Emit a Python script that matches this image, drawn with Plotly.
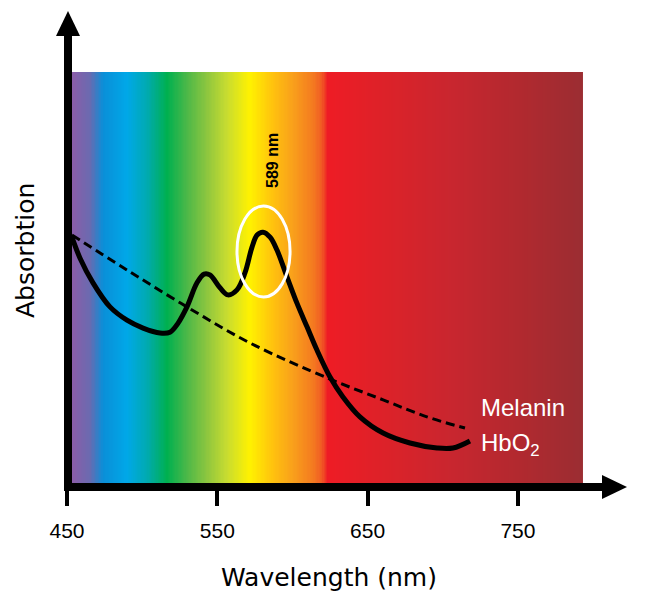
import numpy as np
import plotly.graph_objects as go

# ---- data ----
hbo2_nm = [453.3, 458.6, 467.3, 478.6, 489.9, 500.6, 511.9, 518.5, 523.9, 529.8,
           536.5, 541.2, 545.1, 551.8, 557.1, 563.1, 568.4, 573.1, 576.5, 580.4,
           585.1, 589.7, 596.4, 603.0, 609.7, 616.3, 625.0, 633.6, 644.9, 660.3,
           678.2, 696.2, 706.8, 718.1]
hbo2_abs = [60.2, 55.2, 49.2, 43.4, 40.2, 38.3, 37.1, 37.3, 39.5, 43.4,
            49.2, 51.3, 51.1, 48.0, 46.3, 47.5, 51.6, 57.8, 60.7, 61.4,
            60.2, 57.1, 50.6, 44.3, 38.6, 33.0, 26.5, 21.7, 16.9, 13.0,
            10.6, 9.4, 9.4, 11.1]

melanin_nm = [453.3, 489.9, 529.8, 571.8, 625.0, 660.3, 689.5, 714.8]
melanin_abs = [60.7, 52.3, 43.4, 34.7, 26.0, 21.0, 16.9, 14.2]

tick_vals = [450, 550, 650, 750]
tick_text = ["450", "550", "650", "750"]

spectrum_range_nm = [453.3, 793.3]
spectrum_range_abs = [0.96, 100]
spectrum_stops = [
    [0.000, "#8b5ca8"], [0.035, "#6a6ab0"], [0.061, "#0a8fd8"], [0.108, "#00a8e8"],
    [0.147, "#00aab0"], [0.186, "#00b050"], [0.225, "#4cb848"], [0.264, "#8dc63f"],
    [0.303, "#c8dc30"], [0.348, "#fff200"], [0.393, "#ffc20e"], [0.432, "#f9a01b"],
    [0.472, "#f47a20"], [0.489, "#f15a24"], [0.501, "#ee1c25"], [0.616, "#dc2229"],
    [0.746, "#c8262f"], [0.877, "#b1292f"], [1.000, "#9b2d32"],
]

peak_label = "589 nm"
peak_ellipse_nm = [563.1, 598.4]
peak_ellipse_abs = [45.8, 67.7]

# ---- figure ----
W, H = 650, 608
L, R, T, B = 67, 24, 12, 121
pw, ph = W - L - R, H - T - B
xr = [450, 450 + pw / 1.503]
yr = [0, ph / 4.15]

def px(x):  # pixel -> paper x
    return (x - L) / pw

def py(y):  # pixel -> paper y
    return (H - B - y) / ph

fig = go.Figure()

N = 400
edges = np.linspace(spectrum_range_nm[0], spectrum_range_nm[1], N + 1)
zrow = (np.arange(N) + 0.5) / N
fig.add_trace(go.Heatmap(
    x=edges, y=spectrum_range_abs, z=[zrow], colorscale=spectrum_stops,
    zmin=0, zmax=1, showscale=False, hoverinfo="skip"))

fig.add_trace(go.Scatter(
    x=melanin_nm, y=melanin_abs, mode="lines", line_shape="spline",
    line=dict(color="black", width=3, dash="9px,5px"), hoverinfo="skip"))
fig.add_trace(go.Scatter(
    x=hbo2_nm, y=hbo2_abs, mode="lines", line_shape="spline",
    line=dict(color="black", width=5), hoverinfo="skip"))

shapes = [
    # peak ellipse
    dict(type="circle", xref="x", yref="y",
         x0=peak_ellipse_nm[0], x1=peak_ellipse_nm[1],
         y0=peak_ellipse_abs[0], y1=peak_ellipse_abs[1],
         line=dict(color="white", width=3)),
    # x axis line
    dict(type="rect", xref="paper", yref="paper", x0=px(64), x1=px(604), y0=py(491), y1=py(483),
         fillcolor="black", line_width=0, layer="above"),
    # x arrow head
    dict(type="path", xref="paper", yref="paper",
         path=f"M {px(602)},{py(475)} L {px(627)},{py(487)} L {px(602)},{py(499)} Z",
         fillcolor="black", line_width=0, layer="above"),
    # y axis line
    dict(type="rect", xref="paper", yref="paper", x0=px(64), x1=px(72), y0=py(491), y1=py(34),
         fillcolor="black", line_width=0, layer="above"),
    # y arrow head
    dict(type="path", xref="paper", yref="paper",
         path=f"M {px(56)},{py(36)} L {px(68)},{py(11)} L {px(80)},{py(36)} Z",
         fillcolor="black", line_width=0, layer="above"),
]

annotations = [
    dict(text="Wavelength (nm)", xref="paper", yref="paper", x=px(329), y=py(577),
         showarrow=False, font=dict(family="DejaVu Sans", size=25, color="black"),
         xanchor="center", yanchor="middle"),
    dict(text="Absorbtion", xref="paper", yref="paper", x=px(25), y=py(250),
         showarrow=False, textangle=-90, font=dict(family="DejaVu Sans", size=25, color="black"),
         xanchor="center", yanchor="middle"),
    dict(text="Melanin", xref="paper", yref="paper", x=px(479), y=py(407),
         showarrow=False, font=dict(family="Liberation Sans", size=24, color="white"),
         xanchor="left", yanchor="middle"),
    dict(text="HbO<sub>2</sub>", xref="paper", yref="paper", x=px(479), y=py(444),
         showarrow=False, font=dict(family="Liberation Sans", size=24, color="white"),
         xanchor="left", yanchor="middle"),
    dict(text=f"<b>{peak_label}</b>", xref="paper", yref="paper", x=px(272), y=py(161),
         showarrow=False, textangle=-90, font=dict(family="Liberation Sans", size=16, color="black"),
         xanchor="center", yanchor="middle"),
]

fig.update_layout(
    width=W, height=H, margin=dict(l=L, r=R, t=T, b=B, pad=0),
    paper_bgcolor="white", plot_bgcolor="white", showlegend=False,
    shapes=shapes, annotations=annotations,
    xaxis=dict(range=xr, showgrid=False, zeroline=False, showline=False,
               tickmode="array", tickvals=tick_vals, ticktext=tick_text,
               ticks="outside", ticklen=18, tickwidth=4, tickcolor="black",
               ticklabelstandoff=7,
               tickfont=dict(family="Liberation Sans", size=21, color="black")),
    yaxis=dict(range=yr, visible=False, showgrid=False, zeroline=False),
)

fig.write_html("out.html", config={"displayModeBar": False},
               post_script="document.body.style.margin='0px';")
